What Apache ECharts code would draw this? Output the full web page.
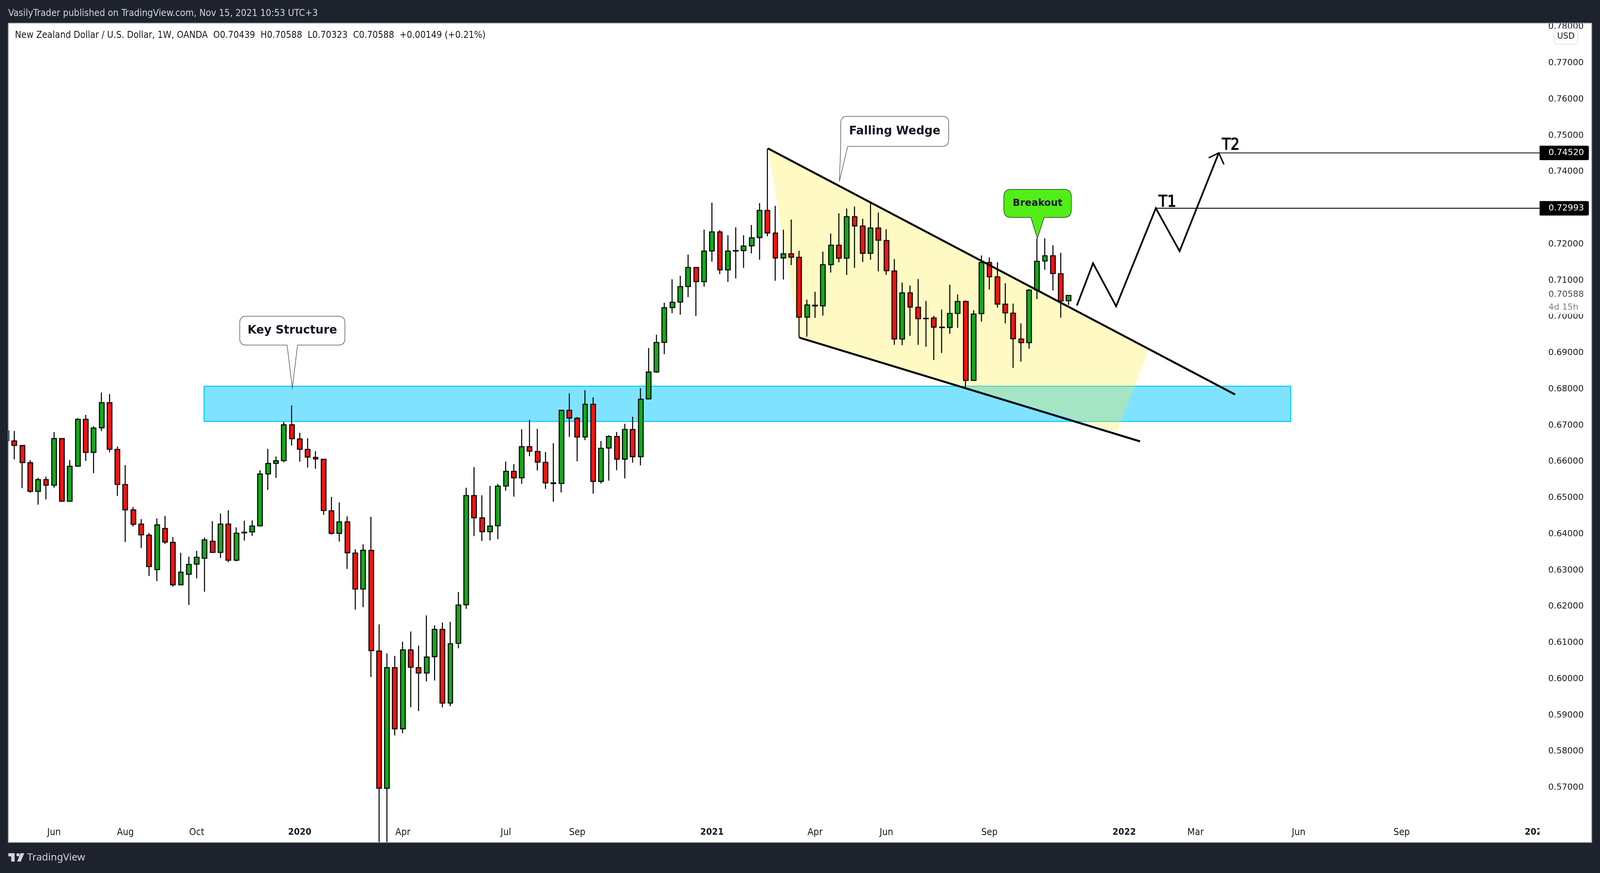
<!DOCTYPE html>
<html>
<head>
<meta charset="utf-8">
<style>html,body{margin:0;padding:0;background:#1E222D;overflow:hidden}</style>
<script src="https://cdn.jsdelivr.net/npm/echarts@6/dist/echarts.min.js"></script>
</head>
<body>
<div id="c"></div>
<script>
const headerText = 'VasilyTrader published on TradingView.com, Nov 15, 2021 10:53 UTC+3';
const symbolText = 'New Zealand Dollar / U.S. Dollar, 1W, OANDA  O0.70439  H0.70588  L0.70323  C0.70588  +0.00149 (+0.21%)';

const opens = [.66845,.66572,.66443,.65969,.65178,.65504,.65348,.66635,.64905,.65875,.67167,.66255,.66934,.67627,.66336,.65366,.64664,.64275,.63971,.63019,.64154,.6377,.62599,.62889,.63171,.63332,.63801,.63493,.64275,.63278,.64033,.6406,.64226,.65661,.65951,.66027,.67015,.66626,.66336,.66116,.66063,.64641,.6402,.64337,.63475,.62482,.63548,.6077,.56985,.60313,.58624,.60803,.60313,.60165,.60616,.61369,.59334,.60984,.6205,.65062,.64447,.64064,.64229,.65326,.6573,.65553,.66411,.66279,.65978,.65413,.65396,.67414,.67195,.66679,.67583,.65454,.66374,.66692,.66069,.66886,.66135,.67732,.68474,.69292,.70252,.70406,.70834,.71359,.70967,.71815,.7234,.71291,.71812,.71826,.71955,.72185,.72933,.72308,.71621,.71736,.71639,.69986,.70296,.70299,.71438,.71973,.71614,.7276,.72502,.71751,.72448,.72103,.71262,.69382,.70658,.70259,.69954,.69965,.69712,.69701,.70089,.70419,.6824,.70085,.71496,.711,.70345,.70097,.69383,.69284,.70737,.71537,.71682,.71186,.70439];
const highs = [.66845,.66845,.66443,.6604,.65549,.65585,.66814,.66635,.6604,.67203,.67292,.66979,.67904,.67864,.66416,.65902,.64744,.64413,.64029,.64431,.64499,.63917,.63484,.63376,.63537,.63904,.64355,.64565,.64659,.64185,.64369,.64378,.65759,.66353,.66139,.67091,.67551,.66796,.66644,.66286,.66063,.65026,.64874,.64489,.63582,.63716,.64477,.61507,.60704,.60638,.61028,.61309,.60918,.61754,.61479,.61556,.61578,.62398,.65277,.65846,.6507,.6533,.65384,.65999,.65933,.66894,.6715,.66902,.66267,.66506,.6743,.67884,.67228,.67971,.67773,.66568,.66725,.66816,.67043,.67236,.68025,.69134,.69501,.70385,.71032,.71129,.71711,.71359,.72401,.73145,.72387,.72247,.72466,.72247,.7253,.73134,.74641,.73059,.72401,.72681,.71819,.70471,.70687,.71797,.72293,.72854,.72983,.73037,.72703,.73139,.72875,.72412,.71589,.70942,.70859,.71039,.70435,.70023,.70196,.70881,.70613,.70444,.7018,.7169,.71636,.71504,.70922,.70361,.69813,.70762,.72156,.72164,.7197,.71764,.70588];
const lows = [.66577,.66063,.65267,.65138,.64811,.64954,.65281,.64896,.64905,.65875,.66018,.65683,.66845,.66255,.65053,.63779,.64208,.63618,.62844,.62701,.63725,.62549,.62585,.62044,.62777,.62411,.63493,.63341,.6322,.63251,.63819,.63949,.64226,.65222,.65549,.65982,.66443,.65996,.65835,.65804,.6453,.63984,.63792,.63037,.61915,.61982,.60055,.5550,.5550,.58443,.58503,.59218,.59114,.59934,.59956,.59218,.59251,.60847,.61936,.63944,.63812,.63824,.63857,.65194,.65033,.65388,.66147,.65755,.65248,.64893,.65149,.66679,.66011,.66593,.65116,.65396,.65475,.65763,.65537,.6597,.65895,.67732,.68449,.68965,.70097,.70054,.70539,.70022,.7083,.71521,.71176,.7096,.71057,.71348,.71747,.71574,.72221,.70992,.71025,.71424,.69423,.69447,.69968,.70033,.71219,.71499,.71154,.71348,.7151,.71574,.71251,.71154,.69224,.69213,.69472,.69224,.6917,.68806,.69,.69528,.69689,.68051,.6824,.69862,.70753,.7025,.69817,.68587,.6876,.69115,.70485,.71294,.70724,.69969,.70323];
const closes = [.66577,.66447,.65973,.65178,.65504,.65348,.66635,.64905,.65871,.67167,.66255,.66926,.67627,.6634,.6537,.64668,.6427,.6398,.63104,.64252,.63779,.62599,.62947,.63162,.63358,.63841,.63493,.64275,.63278,.64025,.64051,.64221,.65656,.65947,.66023,.67015,.66631,.6634,.66125,.66072,.6465,.6402,.64337,.63484,.62482,.63551,.60781,.56985,.60313,.58624,.60803,.60324,.60165,.60605,.61369,.59334,.60973,.6204,.65062,.64451,.64064,.6422,.65322,.6573,.65553,.66411,.66287,.65986,.65413,.65395,.67414,.67203,.66679,.67583,.65454,.66366,.66692,.66069,.66886,.66135,.67723,.68474,.69289,.70248,.70399,.7083,.71359,.70967,.71812,.7234,.71291,.71812,.71826,.71952,.72178,.72933,.72311,.71621,.71736,.71643,.69986,.70324,.70316,.71434,.71973,.71614,.7276,.72505,.71751,.72448,.7211,.71269,.69382,.70658,.70266,.69943,.69944,.69713,.69698,.70089,.70419,.6824,.70072,.71496,.71104,.70349,.70105,.69392,.69284,.70733,.71529,.71682,.71191,.70431,.70588];

const firstWeek = '2019-04-22';
const weekCount = 194;
const tickLabels = ['Jun','Aug','Oct','2020','Apr','Jul','Sep','2021','Apr','Jun','Sep','2022','Mar','Jun','Sep','2023'];
const tickDates = ['2019-06-03','2019-08-05','2019-10-07','2020-01-06','2020-04-06','2020-07-06','2020-09-07','2021-01-04','2021-04-05','2021-06-07','2021-09-06','2022-01-03','2022-03-07','2022-06-06','2022-09-05','2023-01-02'];
const priceTicks = [.57,.58,.59,.60,.61,.62,.63,.64,.65,.66,.67,.68,.69,.70,.71,.72,.73,.74,.75,.76,.77,.78];

// drawings, [week index, price]
const zoneWeeks = [24.93, 162.0];
const zonePrices = [.68081, .67108];
const wedgeUpper = [[96.06,.74644],[154.99,.67851]];
const wedgeLower = [[100.03,.69422],[143.0,.66558]];
const wedgeFill = [[96.06,.74644],[144.07,.6907],[140.08,.6682],[100.03,.69422]];
const projection = [[135.03,.70308],[137.07,.71475],[139.98,.70288],[144.99,.72993],[147.99,.71809],[152.93,.7452]];
const arrowHead = [[151.66,.74385],[152.93,.7452],[153.58,.74202]];
const targetNames = ['T1','T2'];
const targetStarts = [144.99,152.93];
const targetPrices = [.72993,.7452];
const lastPrice = .70588;
const countdown = '4d 15h';
const calloutNames = ['Key Structure','Falling Wedge','Breakout'];
const calloutTipWeeks = [36.06,105.07,130.05];
const calloutTipPrices = [.6803,.73731,.72157];
const axisEndWeek = 193.4;

// The reference is 4289 wide; lay everything out from the window's real width.
const W = window.innerWidth, H = 2235, sx = W / 4289;
const X = v => v * sx, fs = v => v * sx;

// callout geometry in reference px relative to the tip
const calloutShapes = [
  {l:-141,r:141,t:-184,b:-110,tl:-14,tr:14,rad:17,fill:'#FFFFFF',stroke:'#555',size:30.8},
  {l:3.6,r:293,t:-167,b:-90,tl:3.6,tr:22.4,rad:17,fill:'#FFFFFF',stroke:'#555',size:30.8},
  {l:-90,r:91,t:-126,b:-54,tl:-17.4,tr:18,rad:19,fill:'#52EE17',stroke:'#333',size:26}
];
const targetOffsets = [[7.5,5],[8.5,1]];

const categories = [];
{
  const d0 = new Date(firstWeek + 'T00:00:00Z');
  for (let i = 0; i < weekCount; i++) {
    categories.push(new Date(d0.getTime() + i * 7 * 86400000).toISOString().slice(0, 10));
  }
}
const candles = opens.map((o, i) => [o, closes[i], lows[i], highs[i]]);

const UI_FONT = '"DejaVu Sans Condensed","DejaVu Sans"';
const plot = {l:X(22), r:X(4267), t:59, b:2157, axis:X(4127)};

function calloutItem(params, api) {
  const i = params.dataIndex, s = calloutShapes[i];
  const tip = api.coord([api.value(0), api.value(1)]);
  const x = tip[0], y = tip[1];
  const L = x + X(s.l), R = x + X(s.r), T = y + s.t, B = y + s.b, r = s.rad;
  const tl = x + X(s.tl), tr = x + X(s.tr);
  let p = `M${L + r} ${T}H${R - r}Q${R} ${T} ${R} ${T + r}V${B - r}Q${R} ${B} ${R - r} ${B}`;
  p += `H${tr}L${x} ${y}L${tl} ${B}`;
  if (tl - L > r) p += `H${L + r}Q${L} ${B} ${L} ${B - r}`;
  p += `V${T + r}Q${L} ${T} ${L + r} ${T}Z`;
  return {type:'group', children:[
    {type:'path', shape:{pathData:p}, style:{fill:s.fill, stroke:s.stroke, lineWidth:1.5}},
    {type:'text', x:(L + R) / 2, y:(T + B) / 2, style:{text:calloutNames[i], font:`bold ${fs(s.size)}px "DejaVu Sans"`, fill:'#131722', align:'center', verticalAlign:'middle'}}
  ]};
}

const lineSeries = (name, data, width, z, extra) => Object.assign({
  name, type:'line', xAxisIndex:1, yAxisIndex:0, data, showSymbol:false, symbol:'none', silent:true, z,
  lineStyle:{color:'#000', width, cap:'butt', join:'miter'}, animation:false
}, extra || {});
const priceTag = () => ({
  show:true, formatter:p => p.value[1].toFixed(5), backgroundColor:'#000', color:'#fff',
  fontFamily:'DejaVu Sans', fontSize:fs(23), lineHeight:37, padding:[0,X(13),0,X(24)], borderRadius:[0,4,4,0], distance:0
});

const el = document.getElementById('c');
el.style.width = W + 'px';
el.style.height = H + 'px';
const chart = echarts.init(el, null, {renderer:'canvas', width:W, height:H});
chart.setOption({
  animation:false,
  backgroundColor:'#1E222D',
  title:[
    {text:headerText, left:X(22), top:22, padding:0, z:40, textStyle:{color:'#D1D4DC', fontFamily:UI_FONT, fontSize:fs(25.8), fontWeight:'normal'}},
    {text:symbolText, left:X(40), top:79, padding:0, z:40, textStyle:{color:'#131722', fontFamily:UI_FONT, fontSize:fs(25.4), fontWeight:'normal'}},
    {text:'TradingView', left:X(73), top:2183, padding:0, z:40, textStyle:{color:'#D1D4DC', fontFamily:'"Noto Sans"', fontSize:fs(27), fontWeight:'normal'}}
  ],
  grid:{left:X(6.7), top:60, width:X(4122.5), height:2037, containLabel:false},
  xAxis:[
    {type:'category', data:categories, boundaryGap:true, z:0,
     axisLine:{show:false}, axisTick:{show:false}, splitLine:{show:false},
     axisLabel:{show:true, margin:22, hideOverlap:false,
       interval:(i, v) => tickDates.includes(v),
       formatter:v => { const t = tickLabels[tickDates.indexOf(v)]; return /^\d/.test(t) ? `{y|${t}}` : `{m|${t}}`; },
       rich:{m:{fontFamily:UI_FONT, fontSize:fs(26), color:'#131722'}, y:{fontFamily:UI_FONT, fontSize:fs(25), fontWeight:'bold', color:'#131722'}}}},
    {type:'value', min:-0.5, max:193.5, show:false, splitLine:{show:false}}
  ],
  yAxis:{type:'value', position:'right', min:.561321, max:.780943, scale:true, z:3,
    axisLine:{show:false}, axisTick:{show:false}, splitLine:{show:false},
    axisLabel:{show:true, customValues:priceTicks, margin:X(21), color:'#131722', fontFamily:'DejaVu Sans', fontSize:fs(23),
      showMinLabel:true, showMaxLabel:true, hideOverlap:false, formatter:v => v.toFixed(5)}},
  graphic:{elements:[
    {type:'rect', z:-10, silent:true, shape:{x:plot.l, y:plot.t, width:plot.r - plot.l, height:plot.b - plot.t}, style:{fill:'#fff'}},
    {type:'rect', z:1, silent:true, shape:{x:plot.axis, y:plot.t, width:plot.r - plot.axis, height:plot.b - plot.t}, style:{fill:'#fff'}},
    {type:'rect', z:30, silent:true, shape:{x:0, y:0, width:W, height:plot.t}, style:{fill:'#1E222D'}},
    {type:'rect', z:30, silent:true, shape:{x:0, y:0, width:plot.l, height:H}, style:{fill:'#1E222D'}},
    {type:'rect', z:31, silent:true, shape:{x:plot.l, y:plot.t, width:plot.r - plot.l, height:plot.b - plot.t}, style:{fill:'none', stroke:'#8A8E99', lineWidth:2}},
    {type:'rect', z:20, silent:true, shape:{x:X(4166), y:73.5, width:X(63), height:39.5, r:6}, style:{fill:'#fff', stroke:'#E0E3EB', lineWidth:2}},
    {type:'text', z:21, silent:true, x:X(4197.5), y:93.5, style:{text:'USD', font:`${fs(22)}px "DejaVu Sans"`, fill:'#131722', align:'center', verticalAlign:'middle'}},
    {type:'polygon', z:40, silent:true, shape:{points:[[X(22.3),2184.3],[X(39.3),2184.3],[X(39.3),2205.7],[X(30),2205.7],[X(30),2192.6],[X(22.3),2192.6]]}, style:{fill:'#D1D4DC'}},
    {type:'circle', z:40, silent:true, shape:{cx:X(48.3), cy:2188.4, r:4.2}, style:{fill:'#D1D4DC'}},
    {type:'polygon', z:40, silent:true, shape:{points:[[X(55),2184.3],[X(65),2184.3],[X(55.7),2205.7],[X(46),2205.7]]}, style:{fill:'#D1D4DC'}}
  ]},
  series:[
    {type:'custom', name:'Key zone', xAxisIndex:1, yAxisIndex:0, z:1, silent:true, data:[[zoneWeeks[0], zonePrices[0]]], encode:{x:0,y:1},
      renderItem:(p, api) => {
        const a = api.coord([zoneWeeks[0], zonePrices[0]]), b = api.coord([zoneWeeks[1], zonePrices[1]]);
        return {type:'rect', shape:{x:a[0], y:a[1], width:b[0]-a[0], height:b[1]-a[1]}, style:{fill:'rgba(0,200,255,0.5)', stroke:'#00C8FF', lineWidth:2.5}};
      }},
    {type:'custom', name:'Wedge fill', xAxisIndex:1, yAxisIndex:0, z:1.5, silent:true, data:[wedgeFill[0]], encode:{x:0,y:1},
      renderItem:(p, api) => ({type:'polygon', shape:{points:wedgeFill.map(q => api.coord(q))}, style:{fill:'rgba(255,235,59,0.3)'}})},
    {type:'candlestick', name:'NZDUSD', xAxisIndex:0, yAxisIndex:0, data:candles, barWidth:X(13), z:2, clip:true, silent:true,
      itemStyle:{color:'#12A91A', color0:'#F7130D', borderColor:'#000', borderColor0:'#000', borderColorDoji:'#000', borderWidth:2.6}},
    lineSeries('Wedge upper', wedgeUpper, 5, 4),
    lineSeries('Wedge lower', wedgeLower, 5, 4),
    lineSeries('Projection', projection, 4.4, 4),
    lineSeries('Arrow', arrowHead, 3.6, 4),
    lineSeries(targetNames[0], [[targetStarts[0], targetPrices[0]],[axisEndWeek, targetPrices[0]]], 2.2, 5, {endLabel:priceTag()}),
    lineSeries(targetNames[1], [[targetStarts[1], targetPrices[1]],[axisEndWeek, targetPrices[1]]], 2.2, 5, {endLabel:priceTag()}),
    {type:'custom', name:'Targets', xAxisIndex:1, yAxisIndex:0, z:6, silent:true,
      data:targetNames.map((n, i) => [targetStarts[i], targetPrices[i]]), encode:{x:0,y:1},
      renderItem:(p, api) => {
        const c = api.coord([api.value(0), api.value(1)]), o = targetOffsets[p.dataIndex];
        return {type:'text', x:c[0] + X(o[0]), y:c[1] + o[1], style:{text:targetNames[p.dataIndex], font:`${fs(42)}px "DejaVu Sans Condensed","DejaVu Sans"`, fill:'#000', stroke:'#000', lineWidth:1.4, align:'left', verticalAlign:'bottom'}};
      }},
    {type:'custom', name:'Callouts', xAxisIndex:1, yAxisIndex:0, z:7, silent:true,
      data:calloutNames.map((n, i) => [calloutTipWeeks[i], calloutTipPrices[i]]), encode:{x:0,y:1}, renderItem:calloutItem},
    {type:'scatter', name:'Last', xAxisIndex:1, yAxisIndex:0, z:8, silent:true, symbolSize:1, itemStyle:{color:'rgba(0,0,0,0)'},
      data:[[axisEndWeek, lastPrice]],
      label:{show:true, position:'right', distance:X(19), verticalAlign:'top', offset:[0,-18], backgroundColor:'#fff', padding:[0,4],
        formatter:() => `{p|${lastPrice.toFixed(5)}}\n{t|${countdown}}`,
        rich:{p:{fontFamily:'DejaVu Sans', fontSize:fs(23), lineHeight:33, color:'#131722'}, t:{fontFamily:'DejaVu Sans', fontSize:fs(23), lineHeight:33, color:'#5D606B'}}}}
  ]
});
</script>
</body>
</html>
